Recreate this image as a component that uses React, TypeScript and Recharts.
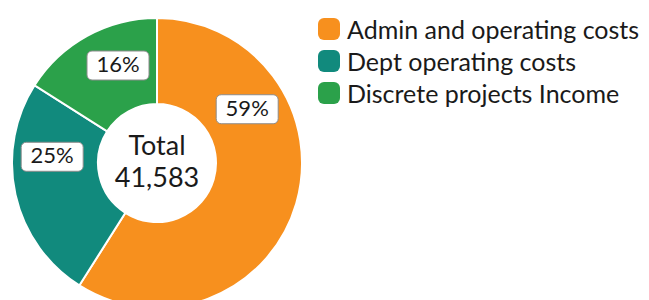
import React from 'react';
import { PieChart, Pie, Cell } from 'recharts';

const categories = ['Admin and operating costs', 'Dept operating costs', 'Discrete projects Income'];
const values = [24534, 10396, 6653];
const colors = ['#F7901E', '#118A7D', '#2BA14A'];
const totalLabel = 'Total';

const total = values.reduce((a, b) => a + b, 0);
const chartData = categories.map((name, i) => ({ name, value: values[i] }));

const FONT = 'Lato, "Open Sans", sans-serif';
const RADIAN = Math.PI / 180;
// Excel's "best fit" places some labels away from the slice middle
const labelNudge = [47, -16, -7];

const renderLabel = (props: any) => {
  const { cx, cy, midAngle, index, percent } = props;
  const angle = midAngle + labelNudge[index];
  const r = 105;
  const x = cx + r * Math.cos(-angle * RADIAN);
  const y = cy + r * Math.sin(-angle * RADIAN);
  const text = `${Math.round(percent * 100)}%`;
  const w = 62;
  const h = 29;
  return (
    <g>
      <rect x={x - w / 2} y={y - h / 2} width={w} height={h} rx={5} fill="#fff" stroke="#8c8c8c" strokeWidth={1} />
      <text x={x} y={y + 1} textAnchor="middle" dominantBaseline="middle" fontSize={22} fill="#1a1a1a" fontFamily={FONT}>
        {text}
      </text>
    </g>
  );
};

const LegendBox = () => (
  <div style={{ position: 'absolute', left: 318, top: 13, fontFamily: FONT }}>
    {categories.map((c, i) => (
      <div key={c} style={{ display: 'flex', alignItems: 'center', height: 32 }}>
        <span style={{ width: 22, height: 22, borderRadius: 6, background: colors[i], marginRight: 7, flexShrink: 0 }} />
        <span style={{ fontSize: 25, color: '#1a1a1a', whiteSpace: 'nowrap' }}>{c}</span>
      </div>
    ))}
  </div>
);

export default function App() {
  return (
    <div style={{ position: 'absolute', left: 0, top: 0, width: 649, height: 300, background: '#fff', overflow: 'hidden' }}>
      <PieChart width={649} height={300} margin={{ top: 0, right: 0, bottom: 0, left: 0 }}>
        <Pie
          data={chartData}
          dataKey="value"
          nameKey="name"
          cx={157}
          cy={163}
          innerRadius={59}
          outerRadius={145}
          startAngle={90}
          endAngle={-270}
          stroke="#fff"
          strokeWidth={2}
          label={renderLabel}
          labelLine={false}
          isAnimationActive={false}
        >
          {chartData.map((d, i) => (
            <Cell key={d.name} fill={colors[i]} />
          ))}
        </Pie>
        <text x={157} y={148} textAnchor="middle" dominantBaseline="middle" fontSize={27} fill="#1a1a1a" fontFamily={FONT}>
          {totalLabel}
        </text>
        <text x={157} y={180} textAnchor="middle" dominantBaseline="middle" fontSize={27} fill="#1a1a1a" fontFamily={FONT}>
          {total.toLocaleString('en-US')}
        </text>
      </PieChart>
      <LegendBox />
    </div>
  );
}
